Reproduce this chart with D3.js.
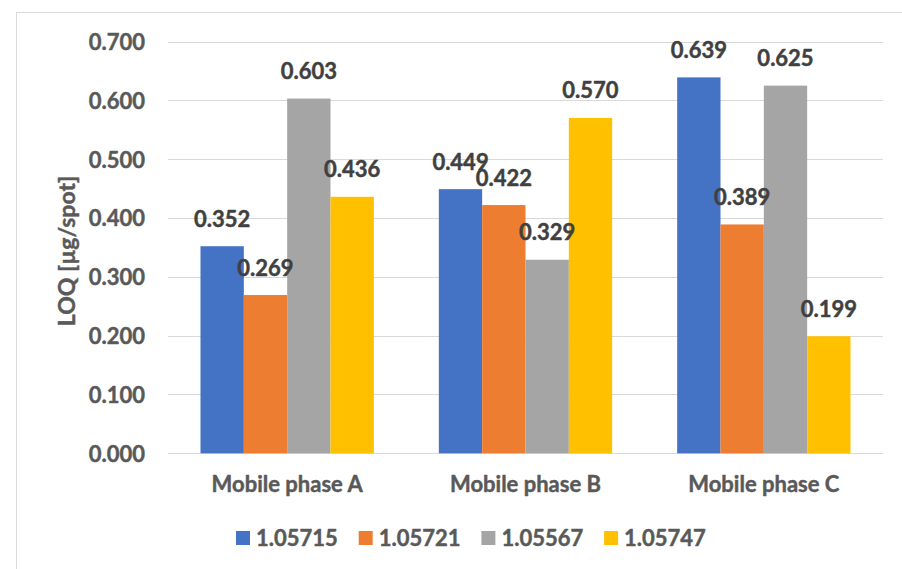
<!DOCTYPE html>
<html>
<head>
<meta charset="utf-8">
<script src="https://cdn.jsdelivr.net/npm/d3@7"></script>
<style>
  html, body { margin: 0; padding: 0; background: #fff; }
  svg { display: block; }
  text { font-family: Lato, "Open Sans", sans-serif; font-weight: bold; paint-order: stroke; stroke-width: 0.45px; stroke-linejoin: round; }
</style>
</head>
<body>
<svg id="chart" width="902" height="569"></svg>
<script>
// Limit of quantification per mobile phase, one series per Rf-labelled compound
const categories = ["Mobile phase A", "Mobile phase B", "Mobile phase C"];
const seriesNames = ["1.05715", "1.05721", "1.05567", "1.05747"];
const seriesColors = ["#4472C4", "#ED7D31", "#A5A5A5", "#FFC000"];
const s1 = [0.352, 0.449, 0.639];
const s2 = [0.269, 0.422, 0.389];
const s3 = [0.603, 0.329, 0.625];
const s4 = [0.436, 0.570, 0.199];
const yTicks = [0, 0.1, 0.2, 0.3, 0.4, 0.5, 0.6, 0.7];
const yTitle = "LOQ [µg/spot]";

const seriesValues = [s1, s2, s3, s4];
const FS = 22;

const svg = d3.select("#chart");

// chart frame (top and left edges visible)
svg.append("rect")
  .attr("x", 16.5).attr("y", 12.5)
  .attr("width", 1000).attr("height", 1000)
  .attr("fill", "none").attr("stroke", "#d9d9d9").attr("stroke-width", 1);

const plot = { left: 168, right: 883, top: 41.5, bottom: 453.3 };

const x0 = d3.scaleBand()
  .domain(categories)
  .range([plot.left, plot.right])
  .paddingInner(0.2727)
  .paddingOuter(0.13635);

const x1 = d3.scaleBand()
  .domain(d3.range(seriesNames.length))
  .range([0, x0.bandwidth()]);

const y = d3.scaleLinear()
  .domain([0, 0.7])
  .range([plot.bottom, plot.top]);

// gridlines
svg.append("g")
  .selectAll("line")
  .data(yTicks)
  .join("line")
  .attr("x1", plot.left).attr("x2", plot.right)
  .attr("y1", d => Math.round(y(d)) + 0.5)
  .attr("y2", d => Math.round(y(d)) + 0.5)
  .attr("stroke", "#d9d9d9").attr("stroke-width", 1.2);

// y axis tick labels
const yAxis = d3.axisLeft(y)
  .tickValues(yTicks)
  .tickFormat(d3.format(".3f"))
  .tickSize(0)
  .tickPadding(0);
const gy = svg.append("g")
  .attr("transform", "translate(145,0)")
  .call(yAxis);
gy.select(".domain").remove();
gy.selectAll("text")
  .attr("font-family", "Lato, sans-serif")
  .attr("font-weight", "bold")
  .attr("font-size", FS)
  .attr("fill", "#595959")
  .attr("stroke", "#595959")
  .attr("dy", "0.36em");

// bars
const groups = svg.append("g")
  .selectAll("g")
  .data(categories)
  .join("g")
  .attr("transform", d => `translate(${x0(d)},0)`);

groups.selectAll("rect")
  .data((d, i) => seriesValues.map((vals, k) => ({ k, v: vals[i] })))
  .join("rect")
  .attr("x", d => x1(d.k))
  .attr("width", x1.bandwidth())
  .attr("y", d => y(d.v))
  .attr("height", d => y(0) - y(d.v))
  .attr("fill", d => seriesColors[d.k]);

// value labels
groups.selectAll("text")
  .data((d, i) => seriesValues.map((vals, k) => ({ k, v: vals[i] })))
  .join("text")
  .attr("x", d => x1(d.k) + x1.bandwidth() / 2)
  .attr("y", d => y(d.v) - 19.5)
  .attr("text-anchor", "middle")
  .attr("font-size", FS)
  .attr("fill", "#404040")
  .attr("stroke", "#404040")
  .text(d => d3.format(".3f")(d.v));

// x axis category labels
const xAxis = d3.axisBottom(x0).tickSize(0).tickPadding(0);
const gx = svg.append("g")
  .attr("transform", `translate(0,${plot.bottom})`)
  .call(xAxis);
gx.select(".domain").remove();
gx.selectAll("text")
  .attr("font-family", "Lato, sans-serif")
  .attr("font-weight", "bold")
  .attr("font-size", FS)
  .attr("fill", "#595959")
  .attr("stroke", "#595959")
  .attr("dy", null)
  .attr("y", 38.5);

// y axis title
svg.append("text")
  .attr("transform", "translate(75,251) rotate(-90)")
  .attr("text-anchor", "middle")
  .attr("font-size", 23)
  .attr("fill", "#595959")
  .attr("stroke", "#595959")
  .text(yTitle);

// legend
const legend = svg.append("g")
  .selectAll("g")
  .data(seriesNames)
  .join("g")
  .attr("transform", (d, i) => `translate(${236 + i * 122.7},531)`);
legend.append("rect")
  .attr("width", 14).attr("height", 14)
  .attr("fill", (d, i) => seriesColors[i]);
legend.append("text")
  .attr("x", 20).attr("y", 14.5)
  .attr("font-size", FS)
  .attr("fill", "#595959")
  .attr("stroke", "#595959")
  .text(d => d);
</script>
</body>
</html>
